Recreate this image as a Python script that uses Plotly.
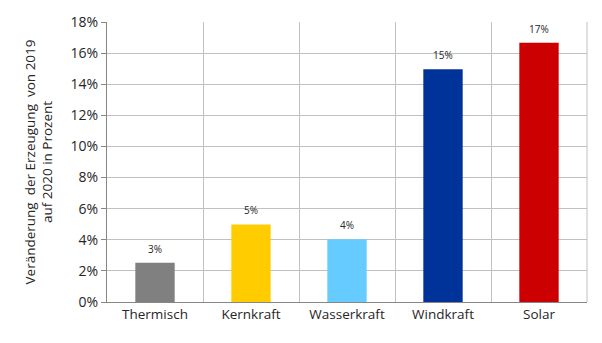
import plotly.graph_objects as go

categories = ["Thermisch", "Kernkraft", "Wasserkraft", "Windkraft", "Solar"]
values = [0.0253, 0.0499, 0.0404, 0.1497, 0.1667]
labels = ["3%", "5%", "4%", "15%", "17%"]
colors = ["#808080", "#FFCC00", "#66CCFF", "#003399", "#CC0000"]
y_ticks = [0, 0.02, 0.04, 0.06, 0.08, 0.10, 0.12, 0.14, 0.16, 0.18]
y_ticktext = ["0%", "2%", "4%", "6%", "8%", "10%", "12%", "14%", "16%", "18%"]

font = "Open Sans"

fig = go.Figure()
fig.add_trace(go.Bar(
    x=categories, y=values, marker=dict(color=colors, line=dict(width=0)),
    width=0.41, hoverinfo="skip",
))

for c, v, t in zip(categories, values, labels):
    fig.add_annotation(x=c, y=v, text=t, showarrow=False, yanchor="bottom",
                       yshift=5, font=dict(family=font, size=10, color="#262626"))

fig.update_layout(
    width=602, height=343,
    margin=dict(l=107, r=15, t=17, b=41),
    paper_bgcolor="white", plot_bgcolor="white",
    showlegend=False,
    font=dict(family=font, color="#262626"),
    bargap=0.59,
)
fig.update_xaxes(
    type="category", tickson="boundaries", showgrid=True, gridcolor="#C0C0C0",
    gridwidth=1, showline=True, linecolor="#868686", linewidth=1,
    mirror=False, ticks="", tickfont=dict(family=font, size=13.5, color="#262626"),
    range=[-0.5, 4.5],
)
fig.update_yaxes(
    range=[0, 0.18], tickvals=y_ticks, ticktext=y_ticktext,
    showgrid=True, gridcolor="#C0C0C0", gridwidth=1,
    showline=True, linecolor="#868686", linewidth=1,
    ticks="outside", ticklen=5, tickcolor="#868686",
    tickfont=dict(family=font, size=14, color="#262626"),
    title=dict(text="Veränderung  der Erzeugung  von 2019<br>auf 2020 in Prozent",
               font=dict(family=font, size=13.5, color="#262626"), standoff=14),
    zeroline=False,
)
# right border line of plot area
fig.add_shape(type="line", xref="paper", yref="paper", x0=1, x1=1, y0=0, y1=1,
              line=dict(color="#C0C0C0", width=1))

fig.write_html("out.html")
